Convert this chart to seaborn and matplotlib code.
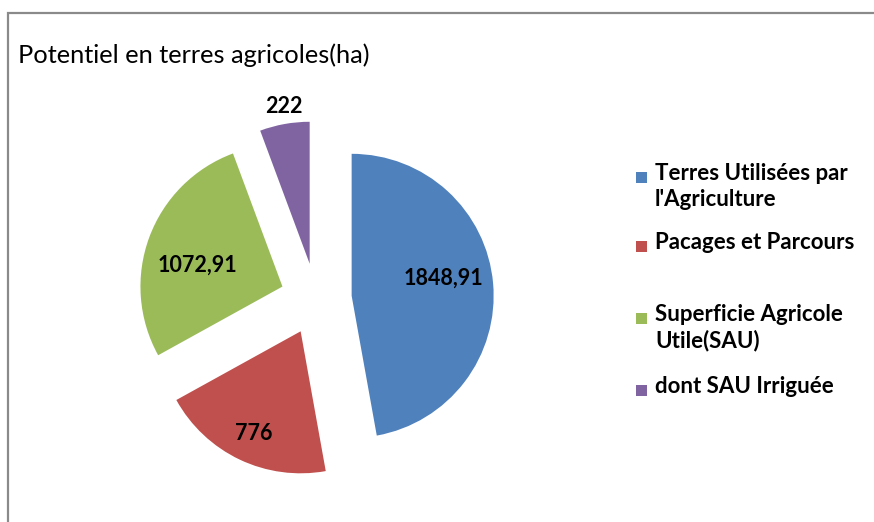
import numpy as np
import matplotlib
matplotlib.use("Agg")
import matplotlib.pyplot as plt
import matplotlib.patches as mpatches
import seaborn as sns

# ---- data ----
categories = ["Terres Utilisées par\nl'Agriculture", "Pacages et Parcours",
              "Superficie Agricole\nUtile(SAU)", "dont SAU Irriguée"]
values = [1848.91, 776, 1072.91, 222]
value_labels = ["1848,91", "776", "1072,91", "222"]
title = "Potentiel en terres agricoles(ha)"

# ---- style ----
colors = ["#4F81BD", "#C0504D", "#9BBB59", "#8064A2"]
label_dist = [0.66, 0.79, 0.62, 1.12]      # radial position of value labels
label_ang_off = [6, 0.7, 6, -1]            # angular nudge (deg)
legend_rows_px = [177, 246, 318, 390]      # y of first line of each legend entry

sns.set_theme(style="white")
plt.rcParams['font.family'] = ['Lato', 'DejaVu Sans']

W, H = 874, 522
fig = plt.figure(figsize=(W / 100, H / 100), dpi=100)
fig.patch.set_facecolor("white")

# frame (partially visible)
frame = mpatches.Rectangle((8 / W, -0.1), 1.2, (H - 13) / H + 0.1, transform=fig.transFigure,
                           fill=False, edgecolor="#8a8a8a", linewidth=1.6, clip_on=False)
fig.patches.append(frame)

R = 142.0
half = 200.0
cx, cy = 316, H - 299
ax = fig.add_axes([(cx - half) / W, (cy - half) / H, 2 * half / W, 2 * half / H])
wedges, _ = ax.pie(values, colors=colors, startangle=90, counterclock=False,
                   explode=[0.252] * len(values), radius=1.0,
                   wedgeprops=dict(linewidth=0))
lim = half / R
ax.set_xlim(-lim, lim)
ax.set_ylim(-lim, lim)
ax.set_aspect("equal")
ax.axis("off")

for w, lab, d, off in zip(wedges, value_labels, label_dist, label_ang_off):
    th = np.deg2rad(0.5 * (w.theta1 + w.theta2) + off)
    x0, y0 = w.center
    ax.text(x0 + d * np.cos(th), y0 + d * np.sin(th), lab, ha="center", va="center",
            fontsize=15.5, fontweight="bold", color="black")

fig.text(18 / W, 1 - 55 / H, title, ha="left", va="center", fontsize=18.3, color="black")

sq = 11
for c, lab, ypx in zip(colors, categories, legend_rows_px):
    fig.patches.append(mpatches.Rectangle((636 / W, 1 - (ypx + sq / 2) / H), sq / W, sq / H,
                                          transform=fig.transFigure, facecolor=c, edgecolor="none"))
    fig.text(655 / W, 1 - (ypx - 14) / H, lab, ha="left", va="top", fontsize=16,
             fontweight="bold", color="black", linespacing=1.27)

fig.savefig("out.png", dpi=100, facecolor="white")
